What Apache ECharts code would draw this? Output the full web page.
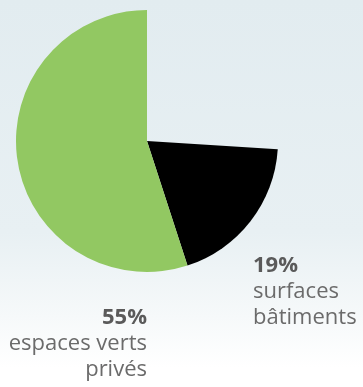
<!DOCTYPE html>
<html>
<head>
<meta charset="utf-8">
<script src="https://cdn.jsdelivr.net/npm/echarts@6/dist/echarts.min.js"></script>
<style>
html,body{margin:0;padding:0;}
body{background:linear-gradient(180deg,#e2ecf0 0%,#e8f0f3 60%,#f6f9fa 82%,#ffffff 95%);}
#chart{width:363px;height:387px;}
</style>
</head>
<body>
<div id="chart"></div>
<script>
// parts du sol (la part restante n'est pas dessinée)
var names = ['autre', 'surfaces\nbâtiments', 'espaces verts\nprivés'];
var values = [26, 19, 55];
var colors = ['transparent', '#000000', '#92c862'];

var chart = echarts.init(document.getElementById('chart'));

var data = [];
for (var i = 0; i < values.length; i++) {
    data.push({
        name: names[i],
        value: values[i],
        itemStyle: {color: colors[i]},
        label: {show: i > 0}
    });
}

// position des étiquettes : [x, y, align]
var labelPos = [null, [253, 292, 'left'], [147, 344, 'right']];

var option = {
    backgroundColor: 'transparent',
    animation: false,
    series: [{
        type: 'pie',
        center: [147, 141],
        radius: [0, 131],
        startAngle: 90,
        clockwise: true,
        silent: true,
        avoidLabelOverlap: false,
        data: data,
        labelLine: {show: false},
        label: {
            position: 'outside',
            overflow: 'none',
            formatter: function (p) {
                return '{p|' + p.value + '%}\n{n|' + p.name.split('\n').join('}\n{n|') + '}';
            },
            rich: {
                p: {fontFamily: 'Open Sans', fontSize: 22, fontWeight: 'bold', color: '#5a5a5a', lineHeight: 26},
                n: {fontFamily: 'Open Sans', fontSize: 22, color: '#6b6b6b', lineHeight: 26}
            }
        },
        labelLayout: function (params) {
            var pos = labelPos[params.dataIndex];
            if (!pos) return {};
            return {x: pos[0], y: pos[1], align: pos[2], verticalAlign: 'middle', hideOverlap: false, width: 200};
        }
    }]
};
chart.setOption(option);
</script>
</body>
</html>
